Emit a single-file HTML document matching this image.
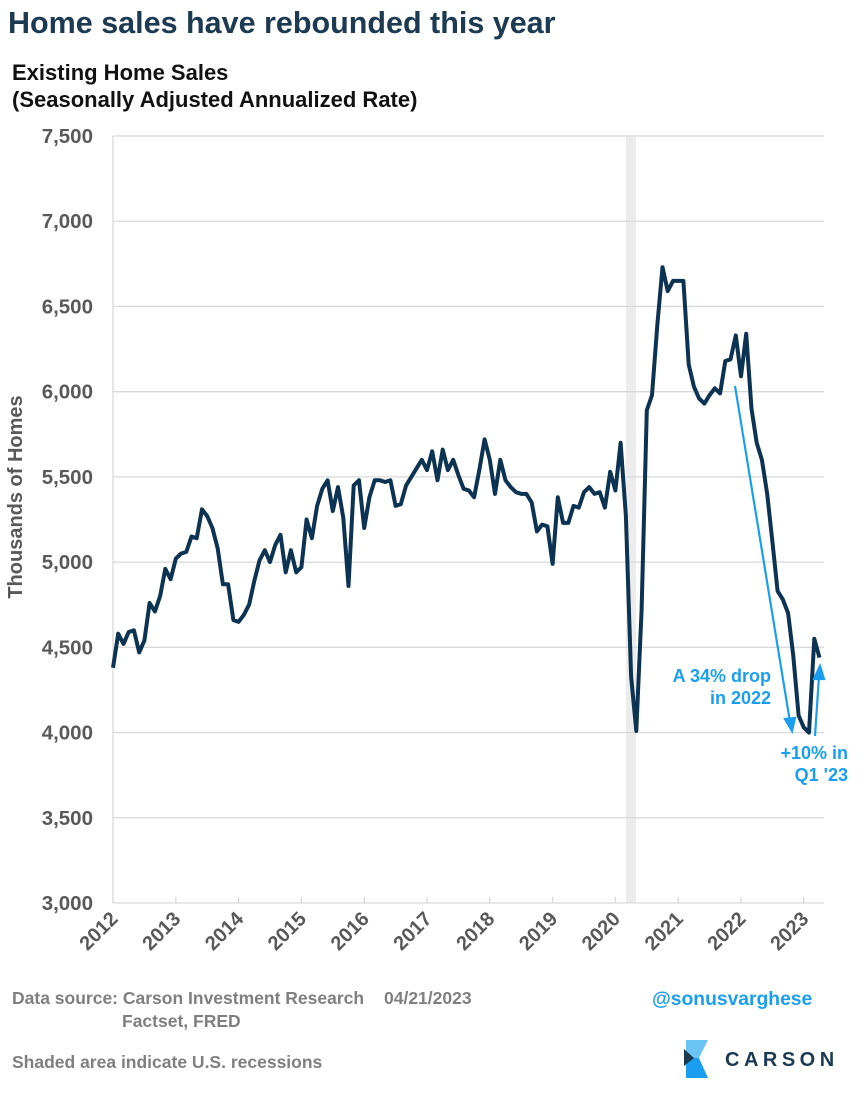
<!DOCTYPE html>
<html><head><meta charset="utf-8"><style>
body{margin:0;background:#fff;width:867px;height:1100px;overflow:hidden;font-family:"Liberation Sans",Arial,sans-serif}
</style></head><body>
<svg id="s" width="867" height="1100" xmlns="http://www.w3.org/2000/svg" font-family="Liberation Sans, Arial, sans-serif">
<text x="8" y="33" font-size="30.5" font-weight="bold" fill="#1c3a52">Home sales have rebounded this year</text>
<text x="12" y="80" font-size="22" font-weight="bold" fill="#111">Existing Home Sales</text>
<text x="12" y="107" font-size="22" font-weight="bold" fill="#111">(Seasonally Adjusted Annualized Rate)</text>
<rect x="626" y="136" width="10" height="767" fill="#ececec"/>
<g id="grid" stroke="#d9d9d9" stroke-width="1.3"></g>
<g id="yl" font-size="20.5" font-weight="bold" fill="#595959" text-anchor="end"></g>
<g id="xl" font-size="20" font-weight="bold" fill="#595959" text-anchor="end"></g>
<text transform="translate(22,497) rotate(-90)" font-size="20" font-weight="bold" fill="#595959" text-anchor="middle">Thousands of Homes</text>
<path id="line" fill="none" stroke="#0d3352" stroke-width="4" stroke-linejoin="round"/>
<g stroke="#1a9ff0" stroke-width="2.2" fill="#1a9ff0">
<line x1="735" y1="386" x2="790" y2="722"/>
<polygon points="792,731 785,719 795,718"/>
<line x1="815" y1="736" x2="819" y2="676"/>
<polygon points="820,666 814,679 824,679"/>
</g>
<g font-size="18" font-weight="bold" fill="#1a9ff0" text-anchor="end">
<text x="771" y="682">A 34% drop</text><text x="771" y="704">in 2022</text>
<text x="848" y="759">+10% in</text><text x="848" y="781">Q1 '23</text>
</g>
<g font-size="17.5" font-weight="bold" fill="#7f7f7f">
<text x="12" y="1004">Data source: Carson Investment Research</text>
<text x="384" y="1004">04/21/2023</text>
<text x="122" y="1027">Factset, FRED</text>
<text x="12" y="1068">Shaded area indicate U.S. recessions</text>
</g>
<text x="652" y="1005" font-size="19.3" font-weight="bold" fill="#1a9ff0">@sonusvarghese</text>
<polygon points="686,1040 708,1040 699,1058 686,1058" fill="#6cc4f5"/>
<polygon points="686,1058 699,1058 708,1078 686,1078" fill="#1a9ff0"/>
<polygon points="684,1049 694,1058 684,1066" fill="#1c3a52"/>
<text x="725" y="1066" font-size="20" font-weight="bold" fill="#1c3a52" letter-spacing="4.5">CARSON</text>
</svg>
<script>
var d=[4380,4580,4520,4590,4600,4470,4540,4760,4710,4800,4960,4900,
5020,5050,5060,5150,5140,5310,5270,5200,5080,4870,4870,4660,
4650,4690,4750,4890,5010,5070,5000,5100,5160,4940,5070,4940,
4970,5250,5140,5330,5430,5480,5300,5440,5260,4860,5450,5480,
5200,5380,5480,5480,5470,5480,5330,5340,5450,5500,5550,5600,
5540,5650,5480,5660,5540,5600,5510,5430,5420,5380,5540,5720,
5600,5400,5600,5480,5440,5410,5400,5400,5350,5180,5220,5210,
4990,5380,5230,5230,5330,5320,5410,5440,5400,5410,5320,5530,
5420,5700,5270,4330,4010,4720,5890,5980,6390,6730,6590,6650,
6650,6650,6160,6030,5960,5930,5980,6020,5990,6180,6190,6330,
6090,6340,5900,5700,5600,5400,5120,4830,4780,4700,4450,4100,
4030,4000,4550,4440];
function X(i){return 113+i*62.8/12}
function Y(v){return 136+(7500-v)*767/4500}
var p="";d.forEach(function(v,i){p+=(i?"L":"M")+X(i).toFixed(1)+","+Y(v).toFixed(1)});
document.getElementById("line").setAttribute("d",p);
var g=document.getElementById("grid"),yl=document.getElementById("yl"),xl=document.getElementById("xl"),ns="http://www.w3.org/2000/svg";
function el(par,t,a,txt){var e=document.createElementNS(ns,t);for(var k in a)e.setAttribute(k,a[k]);if(txt)e.textContent=txt;par.appendChild(e);}
for(var v=3000;v<=7500;v+=500){var y=Y(v);if(v>3000)el(g,"line",{x1:113,x2:824,y1:y,y2:y});
el(yl,"text",{x:93,y:y+7},v.toLocaleString("en-US"));}
el(g,"line",{x1:113,x2:824,y1:903,y2:903});
el(g,"line",{x1:113,x2:113,y1:136,y2:903});
for(var yr=2012;yr<=2023;yr++){var x=113+(yr-2012)*62.8;el(g,"line",{x1:x,x2:x,y1:897,y2:903});
el(xl,"text",{x:x+6,y:920,transform:"rotate(-45 "+(x+6)+" 920)"},String(yr));}
</script>
</body></html>
